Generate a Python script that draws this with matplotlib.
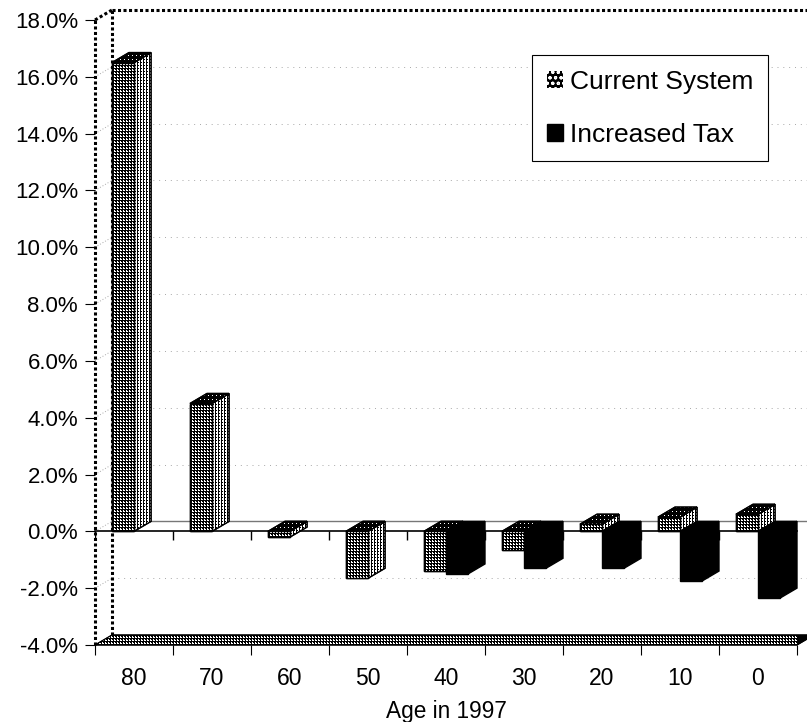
import numpy as np
import matplotlib.pyplot as plt
from matplotlib.patches import Polygon, Patch

plt.rcParams['font.family'] = ['Liberation Sans', 'DejaVu Sans']
plt.rcParams['hatch.linewidth'] = 0.8

# 数据
ages = ['80', '70', '60', '50', '40', '30', '20', '10', '0']
current_system = [16.5, 4.5, -0.2, -1.65, -1.4, -0.65, 0.25, 0.5, 0.6]
increased_tax = [None, None, None, None, -1.5, -1.3, -1.3, -1.75, -2.35]
y_ticks = np.arange(-4, 18.1, 2)

fig = plt.figure(figsize=(8.07, 7.22), dpi=100)
ax = fig.add_axes([95 / 807, 77 / 722, 702 / 807, 625 / 722])
ax.patch.set_visible(False)
for s in ax.spines.values():
    s.set_visible(False)

x_lo, x_hi = -0.5, 8.5
y_lo, y_hi = -4, 18
# 立体深度 (数据单位)
dx = 17 / 78
dy = 10 / 28.4
bw = 0.282

# 网点纹理, 每个像素一格
px_x = 9 / 702
px_y = 22 / 625
yy, xx = np.mgrid[0:645, 0:712]
tex_dense = ((xx % 3 != 0) & (yy % 3 != 0) & ~((xx % 3 == 2) & (yy % 3 == 2))).astype(float)
tex_light = ~((xx % 3 == 0) | ((yy % 3 == 0) & (xx % 3 == 1)))
tex_light = tex_light.astype(float)
tex_top = ((xx % 4 == 1) & (yy % 4 == 1)).astype(float)
tex_extent = (x_lo, x_lo + 712 * px_x, y_lo, y_lo + 645 * px_y)


def textured(patch, tex, z):
    im = ax.imshow(tex, cmap='gray', vmin=0, vmax=1, extent=tex_extent,
                   interpolation='nearest', aspect='auto', origin='lower',
                   zorder=z)
    im.set_clip_path(patch.get_path(), patch.get_transform())
    im.set_clip_box(None)


def poly(pts, z, tex=None, lw=1.0):
    p = Polygon(pts, closed=True, facecolor='black', edgecolor='black',
                lw=lw, zorder=z, clip_on=False)
    ax.add_patch(p)
    if tex is not None:
        textured(p, tex, z + 0.1)
        ax.add_patch(Polygon(pts, closed=True, fill=False, edgecolor='black',
                             lw=lw, zorder=z + 0.2, clip_on=False))


wall_ls = dict(color='black', lw=2.2, ls=(0, (1, 0.8)), clip_on=False, zorder=3)

# 侧墙和背景墙的边框
ax.plot([x_lo, x_lo], [y_lo, y_hi], **wall_ls)
ax.plot([x_lo + dx, x_lo + dx], [y_lo + dy, y_hi + dy], **wall_ls)
ax.plot([x_lo, x_lo + dx], [y_hi, y_hi + dy], **wall_ls)
ax.plot([x_lo + dx, x_hi + 1], [y_hi + dy, y_hi + dy], **wall_ls)

# 网格线
for y in y_ticks[1:-1]:
    ax.plot([x_lo + dx, x_hi + 1], [y + dy, y + dy], color='#a8a8a8',
            lw=0.7, ls=(0, (1, 5)), clip_on=False, zorder=1)
    ax.plot([x_lo, x_lo + dx], [y, y + dy], color='#a8a8a8',
            lw=0.7, ls=(0, (1, 2)), clip_on=False, zorder=1)

# 底面
poly([(x_lo, y_lo), (x_hi, y_lo), (x_hi + dx, y_lo + dy), (x_lo + dx, y_lo + dy)],
     2, tex=tex_dense, lw=0.8)

# 零值平面
ax.plot([x_lo, x_hi], [0, 0], color='black', lw=1.2, zorder=2, clip_on=False)
ax.plot([x_lo + dx, x_hi + dx], [dy, dy], color='#777777', lw=1.0, zorder=2,
        clip_on=False)
ax.vlines(np.arange(-0.5, 9, 1), -0.32, 0, color='black', lw=1.0, zorder=2)


def draw_bar(x0, v, z, kind):
    x1 = x0 + bw
    top = max(v, 0)
    bot = min(v, 0)
    side = [(x1, bot), (x1, top), (x1 + dx, top + dy), (x1 + dx, bot + dy)]
    cap = [(x0, top), (x1, top), (x1 + dx, top + dy), (x0 + dx, top + dy)]
    if kind == 'current':
        poly(side, z, tex=tex_light)
        poly(cap, z + 1, tex=tex_top)
        rect = ax.bar(x0, v, width=bw, align='edge', color='black',
                      edgecolor='black', lw=1.0, zorder=z + 2)[0]
        textured(rect, tex_dense, z + 2.1)
        ax.bar(x0, v, width=bw, align='edge', fill=False, edgecolor='black',
               lw=1.0, zorder=z + 2.2)
    else:
        poly(side, z)
        poly(cap, z + 1)
        ax.bar(x0, v, width=bw, align='edge', color='black', edgecolor='black',
               lw=1.0, zorder=z + 2)


z = 10
for i in range(len(ages)):
    draw_bar(i - bw, current_system[i], z, 'current')
    z += 3
    if increased_tax[i] is not None:
        draw_bar(i, increased_tax[i], z, 'tax')
    z += 3

ax.set_xlim(x_lo, x_hi)
ax.set_ylim(y_lo, y_hi)

# 坐标轴
ax.set_yticks(y_ticks)
ax.set_yticklabels([f'{v:.1f}%' for v in y_ticks], fontsize=16)
ax.tick_params(axis='y', direction='out', length=7.2, width=0.8, pad=5)
ax.set_xticks(np.arange(-0.5, 9, 1))
ax.set_xticklabels([])
ax.set_xticks(np.arange(9), minor=True)
ax.set_xticklabels(ages, minor=True, fontsize=16.5)
ax.tick_params(axis='x', which='major', direction='out', length=7, width=0.8)
ax.tick_params(axis='x', which='minor', length=0, pad=16)
ax.set_xlabel('Age in 1997', fontsize=16.3, labelpad=7)

handles = [Patch(facecolor='black', edgecolor='white', hatch='ooo', lw=0),
           Patch(facecolor='black', edgecolor='black')]
leg = ax.legend(handles, ['Current System', 'Increased Tax'], fontsize=19,
                loc='upper left', bbox_to_anchor=(532 / 807, 1 - 55 / 722),
                bbox_transform=fig.transFigure, borderaxespad=0,
                fancybox=False, shadow=False, framealpha=1,
                handlelength=0.64, handleheight=0.64, handletextpad=0.25,
                labelspacing=1.1, borderpad=0.55)
leg.get_frame().set_edgecolor('black')
leg.get_frame().set_linewidth(0.8)
leg.set_zorder(200)

fig.savefig('out.png', dpi=100)
